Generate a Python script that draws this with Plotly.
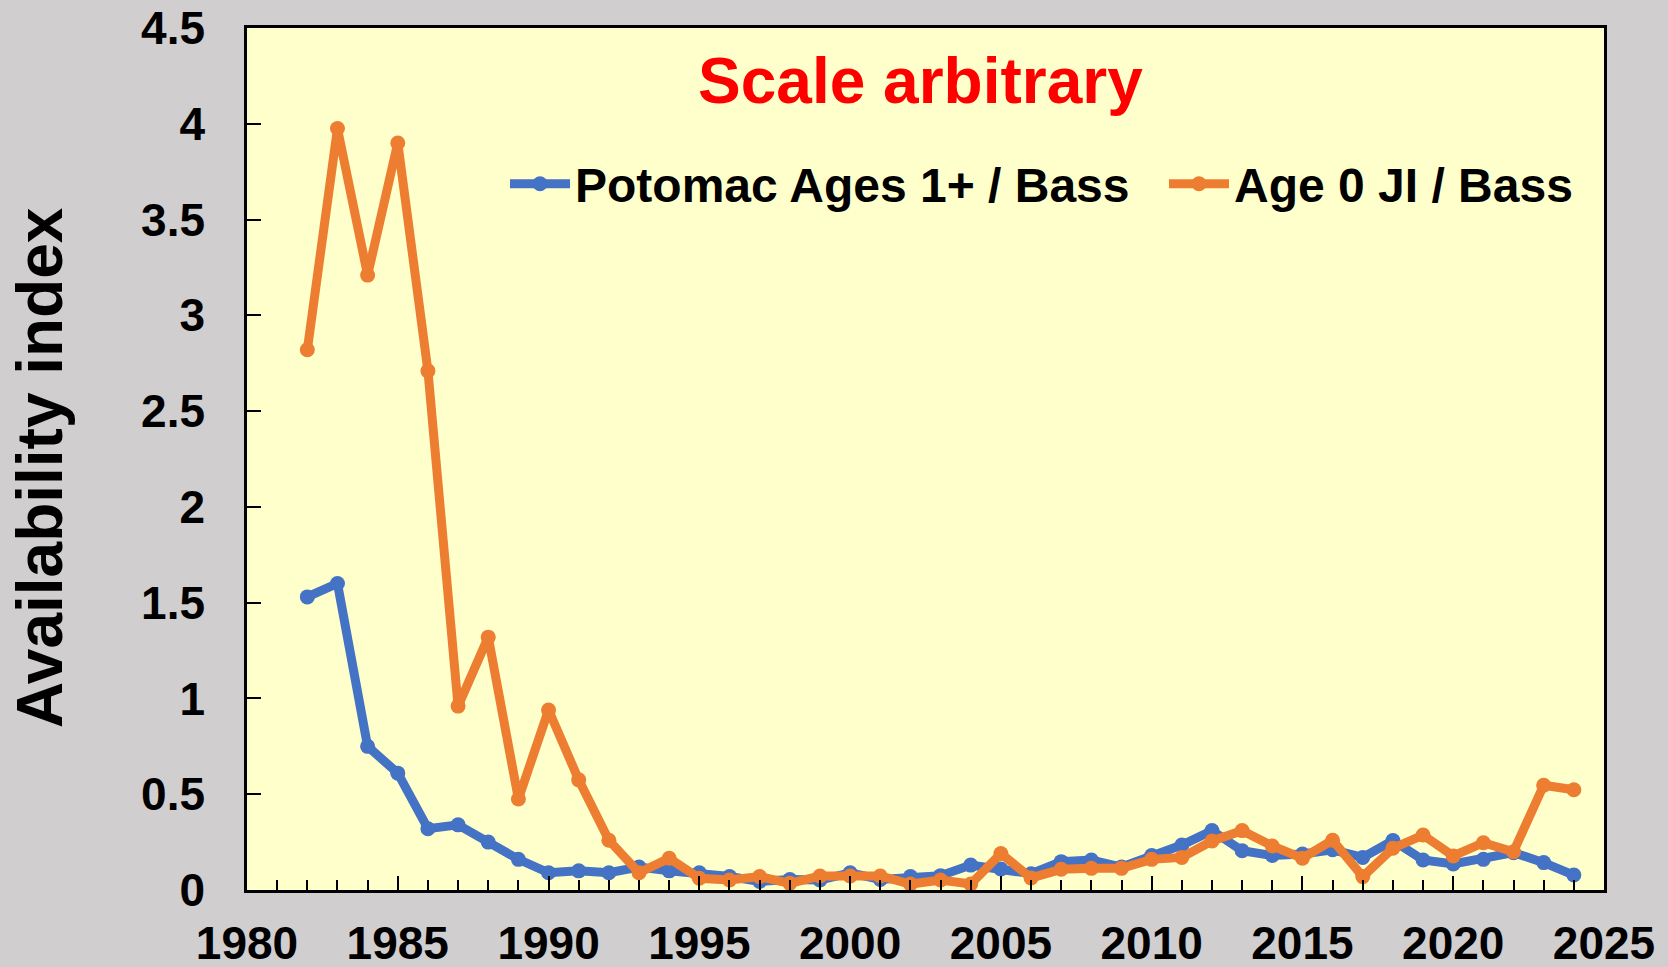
import plotly.graph_objects as go

years = list(range(1982, 2025))
potomac_ages1 = [1.53, 1.60, 0.75, 0.61, 0.32, 0.34, 0.25, 0.16, 0.09, 0.10,
                 0.09, 0.12, 0.10, 0.09, 0.07, 0.045, 0.055, 0.052, 0.09, 0.055,
                 0.07, 0.075, 0.13, 0.11, 0.085, 0.148, 0.157, 0.12, 0.18, 0.235,
                 0.31, 0.205, 0.18, 0.188, 0.21, 0.17, 0.258, 0.157, 0.136, 0.16,
                 0.195, 0.143, 0.078]
age0_ji = [2.82, 3.975, 3.21, 3.90, 2.71, 0.96, 1.32, 0.475, 0.94, 0.575,
           0.26, 0.09, 0.166, 0.061, 0.052, 0.07, 0.035, 0.073, 0.073, 0.073,
           0.031, 0.052, 0.031, 0.19, 0.063, 0.108, 0.113, 0.113, 0.16, 0.17,
           0.256, 0.31, 0.23, 0.166, 0.26, 0.07, 0.218, 0.287, 0.178, 0.247,
           0.20, 0.547, 0.523]

names = ["Potomac Ages 1+ / Bass", "Age 0 JI / Bass"]
colors = ["#4472C4", "#ED7D31"]
legends = ["legend", "legend2"]
y_ticks = [0, 0.5, 1, 1.5, 2, 2.5, 3, 3.5, 4, 4.5]
y_tick_text = ["0", "0.5", "1", "1.5", "2", "2.5", "3", "3.5", "4", "4.5"]
x_ticks = [1980, 1985, 1990, 1995, 2000, 2005, 2010, 2015, 2020, 2025]

FONT = "Liberation Sans, Arial, sans-serif"
PL, PR, PT, PB = 247, 1604, 28, 890
PW, PH = PR - PL, PB - PT


def px_x(v):
    return (v - PL) / PW


def px_y(v):
    return (PB - v) / PH


fig = go.Figure()
for name, vals, col, lg in zip(names, [potomac_ages1, age0_ji], colors, legends):
    fig.add_trace(go.Scatter(
        x=years, y=vals, name=name, mode="lines+markers",
        line=dict(color=col, width=9),
        marker=dict(color=col, size=15),
        legend=lg,
    ))

legend_common = dict(
    orientation="h", xanchor="left", yanchor="middle",
    bgcolor="rgba(0,0,0,0)", font=dict(size=48, weight="bold", family=FONT),
    itemwidth=60,
)

fig.update_layout(
    width=1668, height=967,
    margin=dict(l=PL, r=1668 - PR, t=PT, b=967 - PB, autoexpand=False),
    paper_bgcolor="#D0CECF",
    plot_bgcolor="#FFFFCC",
    font=dict(family=FONT, color="black"),
    showlegend=True,
    legend=dict(x=px_x(505), y=px_y(184), **legend_common),
    legend2=dict(x=px_x(1164), y=px_y(184), **legend_common),
    annotations=[
        dict(text="Scale arbitrary", xref="paper", yref="paper",
             x=px_x(920), y=px_y(81), xanchor="center", yanchor="middle",
             showarrow=False, font=dict(size=64, color="#FF0000", weight="bold", family=FONT)),
        dict(text="Availability index", xref="paper", yref="paper",
             x=px_x(40), y=px_y(468), xanchor="center", yanchor="middle",
             textangle=-90, showarrow=False,
             font=dict(size=64, color="black", weight="bold", family=FONT)),
    ],
)

fig.update_xaxes(
    range=[1980, 2025], tickmode="array", tickvals=x_ticks,
    ticks="inside", ticklen=14, tickwidth=2, tickcolor="black",
    minor=dict(dtick=1, tick0=1980, ticks="inside", ticklen=10, tickwidth=2, tickcolor="black", showgrid=False),
    showline=True, linecolor="black", linewidth=2.5, mirror=True,
    showgrid=False, zeroline=False, automargin=False,
    tickfont=dict(size=46, weight="bold", family=FONT),
    ticklabelstandoff=11,
)
fig.update_yaxes(
    range=[0, 4.5], tickmode="array", tickvals=y_ticks, ticktext=y_tick_text,
    ticks="inside", ticklen=14, tickwidth=2, tickcolor="black",
    showline=True, linecolor="black", linewidth=2.5, mirror=True,
    showgrid=False, zeroline=False, automargin=False,
    tickfont=dict(size=46, weight="bold", family=FONT),
    ticklabelstandoff=30,
)

fig.write_html(
    "out.html",
    config={"displayModeBar": False},
    post_script="document.body.style.margin='0';document.body.style.overflow='hidden';",
)
